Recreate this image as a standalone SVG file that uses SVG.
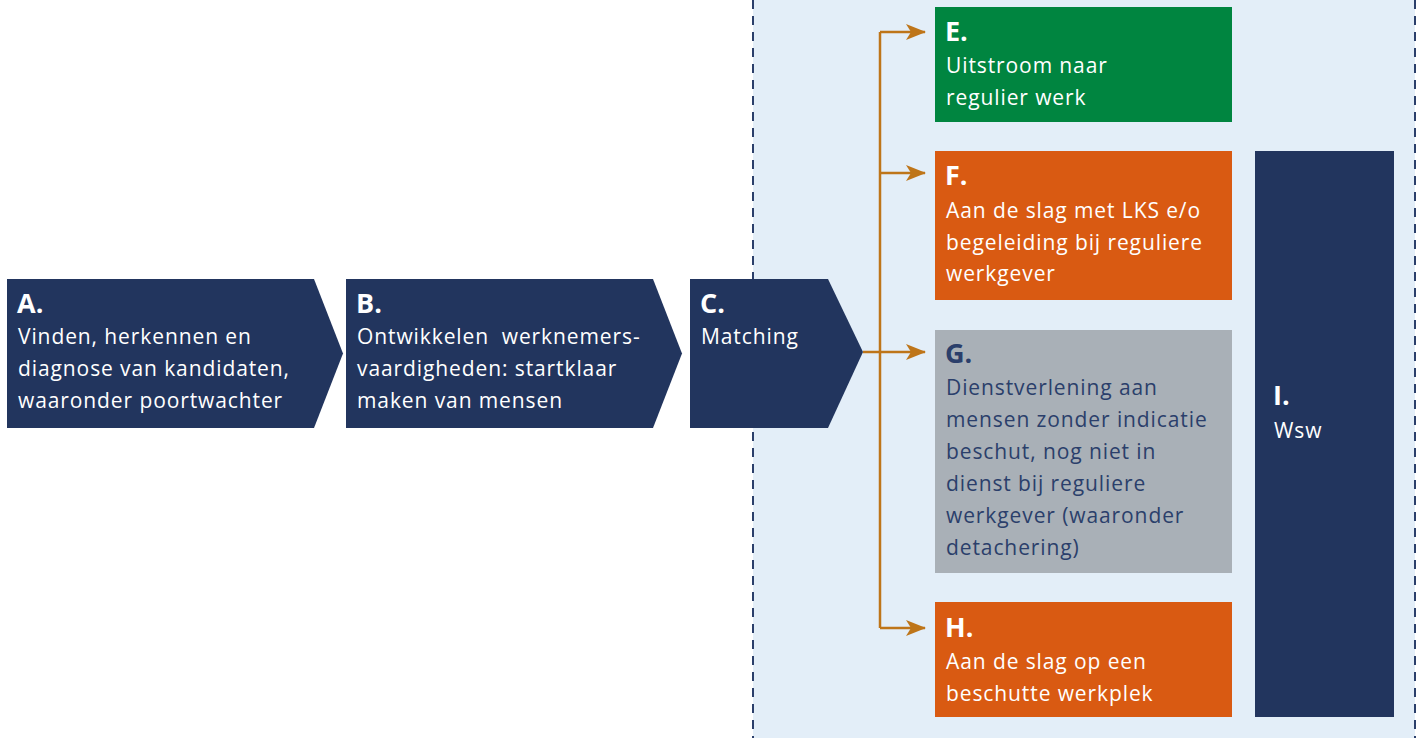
<svg xmlns="http://www.w3.org/2000/svg" width="1421" height="738" viewBox="0 0 1421 738">
<defs>
<style>
.t{font-family:"Open Sans","Liberation Sans",sans-serif;font-size:21px;letter-spacing:0.9px;fill:#ffffff}
.h{font-family:"Open Sans","Liberation Sans",sans-serif;font-size:27px;font-weight:bold;fill:#ffffff}
.d{fill:#22355E}
.dark{fill:#2B3F6B}
.conn{fill:none;stroke:#BE7519;stroke-width:2.5}
.dash{stroke:#2B3F6B;stroke-width:2;stroke-dasharray:9,7;fill:none}
</style>
<marker id="arr" viewBox="0 0 20 16" refX="19" refY="8" markerWidth="20" markerHeight="16" markerUnits="userSpaceOnUse" orient="auto">
<path d="M0,0 L20,8 L0,16 L5,8 Z" fill="#BE7519"/>
</marker>
</defs>
<rect width="1421" height="738" fill="#ffffff"/>
<rect x="753" y="0" width="662" height="738" fill="#E3EEF8"/>
<line class="dash" x1="753" y1="0" x2="753" y2="738"/>
<line class="dash" x1="1415" y1="0" x2="1415" y2="738"/>
<g id="connectors">
<path class="conn" d="M863,352 H880"/>
<path class="conn" d="M880,32 V628"/>
<path class="conn" d="M880,32 H925" marker-end="url(#arr)"/>
<path class="conn" d="M880,173 H925" marker-end="url(#arr)"/>
<path class="conn" d="M880,352 H925" marker-end="url(#arr)"/>
<path class="conn" d="M880,628 H925" marker-end="url(#arr)"/>
</g>
<g id="A">
<polygon class="d" points="7,279 314,279 343,353.5 314,428 7,428"/>
<text class="h" x="17" y="313">A.</text>
<text class="t" x="18" y="344">Vinden, herkennen en</text>
<text class="t" x="18" y="376">diagnose van kandidaten,</text>
<text class="t" x="18" y="408">waaronder poortwachter</text>
</g>
<g id="B">
<polygon class="d" points="346,279 653,279 682,353.5 653,428 346,428"/>
<text class="h" x="356" y="313">B.</text>
<text class="t" x="357" y="344" xml:space="preserve">Ontwikkelen  werknemers-</text>
<text class="t" x="357" y="376">vaardigheden: startklaar</text>
<text class="t" x="357" y="408">maken van mensen</text>
</g>
<g id="C">
<polygon class="d" points="690,279 828,279 863,352 828,428 690,428"/>
<text class="h" x="700" y="313">C.</text>
<text class="t" x="701" y="344">Matching</text>
</g>
<g id="E">
<rect x="935" y="7" width="297" height="115" fill="#008540"/>
<text class="h" x="945" y="41">E.</text>
<text class="t" x="946" y="73">Uitstroom naar</text>
<text class="t" x="946" y="105">regulier werk</text>
</g>
<g id="F">
<rect x="935" y="151" width="297" height="149" fill="#D95A12"/>
<text class="h" x="945" y="185">F.</text>
<text class="t" x="946" y="218">Aan de slag met LKS e/o</text>
<text class="t" x="946" y="250">begeleiding bij reguliere</text>
<text class="t" x="946" y="281">werkgever</text>
</g>
<g id="G">
<rect x="935" y="330" width="297" height="243" fill="#A9B0B7"/>
<text class="h" x="945" y="363" style="fill:#2B3F6B">G.</text>
<text class="t dark" x="946" y="395">Dienstverlening aan</text>
<text class="t dark" x="946" y="427">mensen zonder indicatie</text>
<text class="t dark" x="946" y="459">beschut, nog niet in</text>
<text class="t dark" x="946" y="491">dienst bij reguliere</text>
<text class="t dark" x="946" y="523">werkgever (waaronder</text>
<text class="t dark" x="946" y="555">detachering)</text>
</g>
<g id="H">
<rect x="935" y="602" width="297" height="115" fill="#D95A12"/>
<text class="h" x="945" y="637">H.</text>
<text class="t" x="946" y="669">Aan de slag op een</text>
<text class="t" x="946" y="701">beschutte werkplek</text>
</g>
<g id="I">
<rect x="1255" y="151" width="139" height="566" fill="#22355E"/>
<text class="h" x="1273" y="405">I.</text>
<text class="t" x="1274" y="438">Wsw</text>
</g>
</svg>
